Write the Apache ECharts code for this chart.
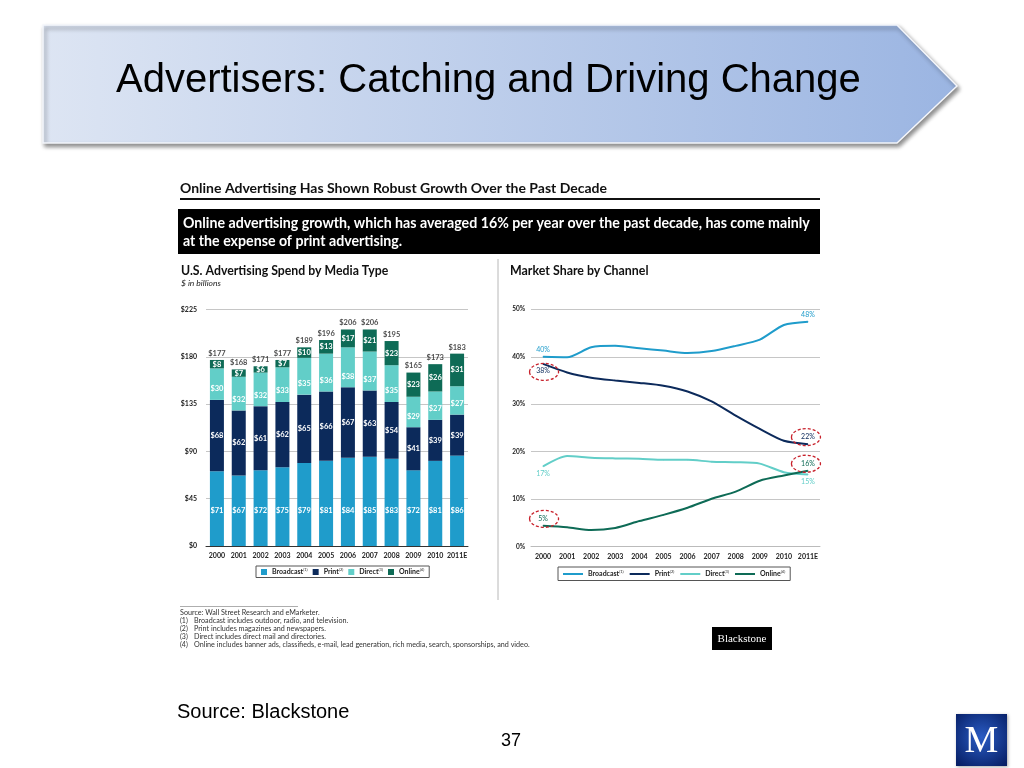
<!DOCTYPE html>
<html><head><meta charset="utf-8">
<script src="https://cdn.jsdelivr.net/npm/echarts@6/dist/echarts.min.js"></script>
<style>html,body{margin:0;padding:0;background:#fff}#c{width:1024px;height:768px}</style>
</head><body><div id="c"></div>
<script>
// ---------- data ----------
const years = ['2000','2001','2002','2003','2004','2005','2006','2007','2008','2009','2010','2011E'];
const seriesNames = ['Broadcast','Print','Direct','Online'];
const broadcast = [71,67,72,75,79,81,84,85,83,72,81,86];
const print     = [68,62,61,62,65,66,67,63,54,41,39,39];
const direct    = [30,32,32,33,35,36,38,37,35,29,27,27];
const online    = [8,7,6,7,10,13,17,21,23,23,26,31];
const totals    = [177,168,171,177,189,196,206,206,195,165,173,183];
const spendTicks = [0,45,90,135,180,225];

const shareBroadcast = [40,39.9,42,42.3,41.8,41.3,40.8,41.2,42.3,43.6,46.7,47.4];
const sharePrint     = [38.5,36.7,35.6,35,34.5,33.9,32.7,30.6,27.6,24.8,22.3,21.6];
const shareDirect    = [16.9,19.1,18.75,18.6,18.5,18.3,18.3,17.9,17.8,17.5,15.7,15.2];
const shareOnline    = [4.4,4.1,3.5,3.95,5.4,6.7,8.2,10.1,11.6,13.9,15,16];
const shareEndLabels = {Broadcast:['40%','48%'], Print:['38%','22%'], Direct:['17%','15%'], Online:['5%','16%']};
const circled = {Print:[true,true], Online:[true,true], Broadcast:[false,false], Direct:[false,false]};
const shareTicks = [0,10,20,30,40,50];

const footnotes = [
  ['', 'Source: Wall Street Research and eMarketer.'],
  ['(1)', 'Broadcast includes outdoor, radio, and television.'],
  ['(2)', 'Print includes magazines and newspapers.'],
  ['(3)', 'Direct includes direct mail and directories.'],
  ['(4)', 'Online includes banner ads, classifieds, e-mail, lead generation, rich media, search, sponsorships, and video.']
];

// ---------- style ----------
const C = {Broadcast:'#1f9ccb', Print:'#0c2a5b', Direct:'#62cec8', Online:'#0e6b56'};
const F = 'Lato, "Open Sans", sans-serif';

const chart = echarts.init(document.getElementById('c'), null, {renderer:'canvas'});

const legendRich = {
  n:{fontSize:7, fontWeight:'bold', fontFamily:F, color:'#222'},
  s:{fontSize:4, fontFamily:F, color:'#222', verticalAlign:'top', padding:[0,0,4,0]}
};
function legFmt(name){ return '{n|'+name+'}{s|('+(seriesNames.indexOf(name)+1)+')}'; }

const barLabelBase = {show:true, color:'#fff', fontSize:7.5, fontWeight:'bold', fontFamily:F, formatter:p=>'$'+p.value};
const barSeries = [
  {name:'Broadcast', data:broadcast, label:Object.assign({}, barLabelBase, {position:'insideBottom', distance:31})},
  {name:'Print', data:print, label:Object.assign({}, barLabelBase, {position:'inside'})},
  {name:'Direct', data:direct, label:Object.assign({}, barLabelBase, {position:'insideBottom', distance:7})},
  {name:'Online', data:online, label:Object.assign({}, barLabelBase, {position:'inside'})}
].map(s=>Object.assign({type:'bar', stack:'spend', xAxisIndex:0, yAxisIndex:0, barWidth:14,
  itemStyle:{color:C[s.name]}, emphasis:{disabled:true}}, s));

barSeries.push({
  type:'scatter', name:'Total', xAxisIndex:0, yAxisIndex:0, data:totals, symbolSize:1,
  itemStyle:{color:'rgba(0,0,0,0)'}, silent:true,
  label:{show:true, position:'top', distance:2, color:'#222', fontSize:7.5, fontWeight:'bold', fontFamily:F, formatter:p=>'$'+p.value}
});

const shareData = {Broadcast:shareBroadcast, Print:sharePrint, Direct:shareDirect, Online:shareOnline};
const labelPos = {Broadcast:['top','top'], Print:['bottom','top'], Direct:['bottom','bottom'], Online:['top','top']};
const lineSeries = seriesNames.map(n=>{
  const arr = shareData[n];
  const data = arr.map((v,i)=>{
    const k = i===0 ? 0 : (i===arr.length-1 ? 1 : -1);
    if (k<0) return v;
    return {value:v, label:{show:true, position:labelPos[n][k], distance:3, formatter:shareEndLabels[n][k]}};
  });
  return {type:'line', name:n, xAxisIndex:1, yAxisIndex:1, data:data, smooth:0.25,
    symbol:'circle', symbolSize:1, showSymbol:true, itemStyle:{color:C[n]},
    lineStyle:{color:C[n], width:2}, emphasis:{disabled:true},
    label:{show:false, color:C[n], fontSize:7, fontFamily:F}};
});

const axisLabelStyle = {fontSize:7, fontWeight:'bold', fontFamily:F, color:'#222'};

chart.setOption({
  animation:false,
  textStyle:{fontFamily:F},
  grid:[
    {left:206, top:309.5, width:262, height:236.5},
    {left:531, top:309.3, width:289, height:237.4}
  ],
  xAxis:[
    {type:'category', gridIndex:0, data:years, axisTick:{show:false},
     axisLine:{lineStyle:{color:'#333', width:1}}, axisLabel:Object.assign({margin:6, interval:0}, axisLabelStyle)},
    {type:'category', gridIndex:1, data:years, axisTick:{show:false},
     axisLine:{lineStyle:{color:'#bbb', width:1}}, axisLabel:Object.assign({margin:7, interval:0}, axisLabelStyle)}
  ],
  yAxis:[
    {type:'value', gridIndex:0, min:spendTicks[0], max:spendTicks[spendTicks.length-1], interval:45,
     axisLine:{show:false}, axisTick:{show:false}, splitLine:{lineStyle:{color:'#c6c6c6'}},
     axisLabel:Object.assign({margin:9, formatter:v=>'$'+v}, axisLabelStyle)},
    {type:'value', gridIndex:1, min:shareTicks[0], max:shareTicks[shareTicks.length-1], interval:10,
     axisLine:{show:false}, axisTick:{show:false}, splitLine:{lineStyle:{color:'#c6c6c6'}},
     axisLabel:Object.assign({margin:6, formatter:v=>v+'%'}, axisLabelStyle, {fontSize:6.5})}
  ],
  legend:[
    {data:seriesNames, left:256, top:566, itemWidth:6, itemHeight:6, itemGap:5, icon:'rect',
     borderColor:'#555', borderWidth:1, padding:[2,5,2,5], formatter:legFmt,
     textStyle:{rich:legendRich}, selectedMode:false},
    {data:seriesNames.map(n=>({name:n})), left:558, top:567, itemWidth:20, itemHeight:2, itemGap:6, icon:'rect',
     borderColor:'#555', borderWidth:1, padding:[3,5,3,5], formatter:legFmt,
     textStyle:{rich:legendRich}, selectedMode:false}
  ],
  series: barSeries.concat(lineSeries)
});

// ---------- decoration ----------
const g = [];
g.push({type:'polygon', shape:{points:[[43,25],[897,25],[957,86],[897,143],[43,143]]},
  style:{fill:new echarts.graphic.LinearGradient(0,0,1,0,[{offset:0,color:'#dde5f3'},{offset:1,color:'#9bb5e2'}]),
    stroke:'#f4f6fb', lineWidth:1.5, shadowBlur:4, shadowColor:'rgba(0,0,0,0.45)', shadowOffsetX:2, shadowOffsetY:3}, z:0});
g.push({type:'text', x:116, y:81, style:{text:'Advertisers: Catching and Driving Change', fill:'#000',
  font:'40px "Liberation Sans", Arial, sans-serif', textVerticalAlign:'middle'}, z:2});

g.push({type:'text', x:180, y:188, style:{text:'Online Advertising Has Shown Robust Growth Over the Past Decade', fill:'#111',
  font:'bold 14px '+F, textVerticalAlign:'middle'}});
g.push({type:'line', shape:{x1:180,y1:199,x2:820,y2:199}, style:{stroke:'#111', lineWidth:2}});
g.push({type:'rect', shape:{x:178,y:209,width:642,height:45}, style:{fill:'#000'}});
g.push({type:'text', x:183, y:223.5, style:{text:'Online advertising growth, which has averaged 16% per year over the past decade, has come mainly', fill:'#fff',
  font:'bold 14.2px '+F, textVerticalAlign:'middle'}});
g.push({type:'text', x:183, y:241.5, style:{text:'at the expense of print advertising.', fill:'#fff',
  font:'bold 14.2px '+F, textVerticalAlign:'middle'}});

g.push({type:'text', x:181, y:271, style:{text:'U.S. Advertising Spend by Media Type', fill:'#111', font:'bold 12.3px '+F, textVerticalAlign:'middle'}});
g.push({type:'text', x:181, y:283, style:{text:'$ in billions', fill:'#222', font:'italic 8.5px '+F, textVerticalAlign:'middle'}});
g.push({type:'text', x:510, y:271, style:{text:'Market Share by Channel', fill:'#111', font:'bold 12.4px '+F, textVerticalAlign:'middle'}});
g.push({type:'line', shape:{x1:498,y1:259,x2:498,y2:600}, style:{stroke:'#b8b8b8', lineWidth:1}});

g.push({type:'line', shape:{x1:180,y1:606.5,x2:298,y2:606.5}, style:{stroke:'#999', lineWidth:0.8}});
footnotes.forEach((f,i)=>{
  const y = 613 + i*8;
  if (f[0]) g.push({type:'text', x:180, y:y, style:{text:f[0], fill:'#333', font:'7px '+F, textVerticalAlign:'middle'}});
  g.push({type:'text', x:f[0]?194:180, y:y, style:{text:f[1], fill:'#333', font:'7.2px '+F, textVerticalAlign:'middle'}});
});
g.push({type:'rect', shape:{x:712,y:627,width:60,height:23}, style:{fill:'#000'}});
g.push({type:'text', x:742, y:639, style:{text:'Blackstone', fill:'#fff', font:'11px "Liberation Serif", serif', textAlign:'center', textVerticalAlign:'middle'}});

g.push({type:'text', x:177, y:712.5, style:{text:'Source: Blackstone', fill:'#000', font:'20px "Liberation Sans", Arial, sans-serif', textVerticalAlign:'middle'}});
g.push({type:'text', x:511, y:741, style:{text:'37', fill:'#000', font:'18px "Liberation Sans", Arial, sans-serif', textAlign:'center', textVerticalAlign:'middle'}});

g.push({type:'rect', shape:{x:956,y:714,width:51,height:52},
  style:{fill:new echarts.graphic.RadialGradient(0.5,0.45,0.7,[{offset:0,color:'#2a5cc4'},{offset:1,color:'#071f66'}]),
  shadowBlur:3, shadowColor:'rgba(0,0,0,0.35)', shadowOffsetX:1, shadowOffsetY:1}});
g.push({type:'text', x:981.5, y:742, style:{text:'M', fill:'#fff', font:'38px "Liberation Serif", serif', textAlign:'center', textVerticalAlign:'middle'}});

// dashed red ellipses around circled share labels, placed from data via the axes
const offY = {top:-7, bottom:8};
seriesNames.forEach(n=>{
  const arr = shareData[n];
  [0, arr.length-1].forEach((idx,k)=>{
    if (!circled[n][k]) return;
    const p = chart.convertToPixel({xAxisIndex:1, yAxisIndex:1}, [years[idx], arr[idx]]);
    const cy = p[1] + offY[labelPos[n][k]];
    g.push({type:'ellipse', shape:{cx:p[0]+(k?-2:1), cy:cy, rx:14.5, ry:8.5},
      style:{fill:'none', stroke:'#c8222c', lineWidth:1.3, lineDash:[3,2]}, z:5});
  });
});

chart.setOption({graphic:g});
</script>
</body></html>
